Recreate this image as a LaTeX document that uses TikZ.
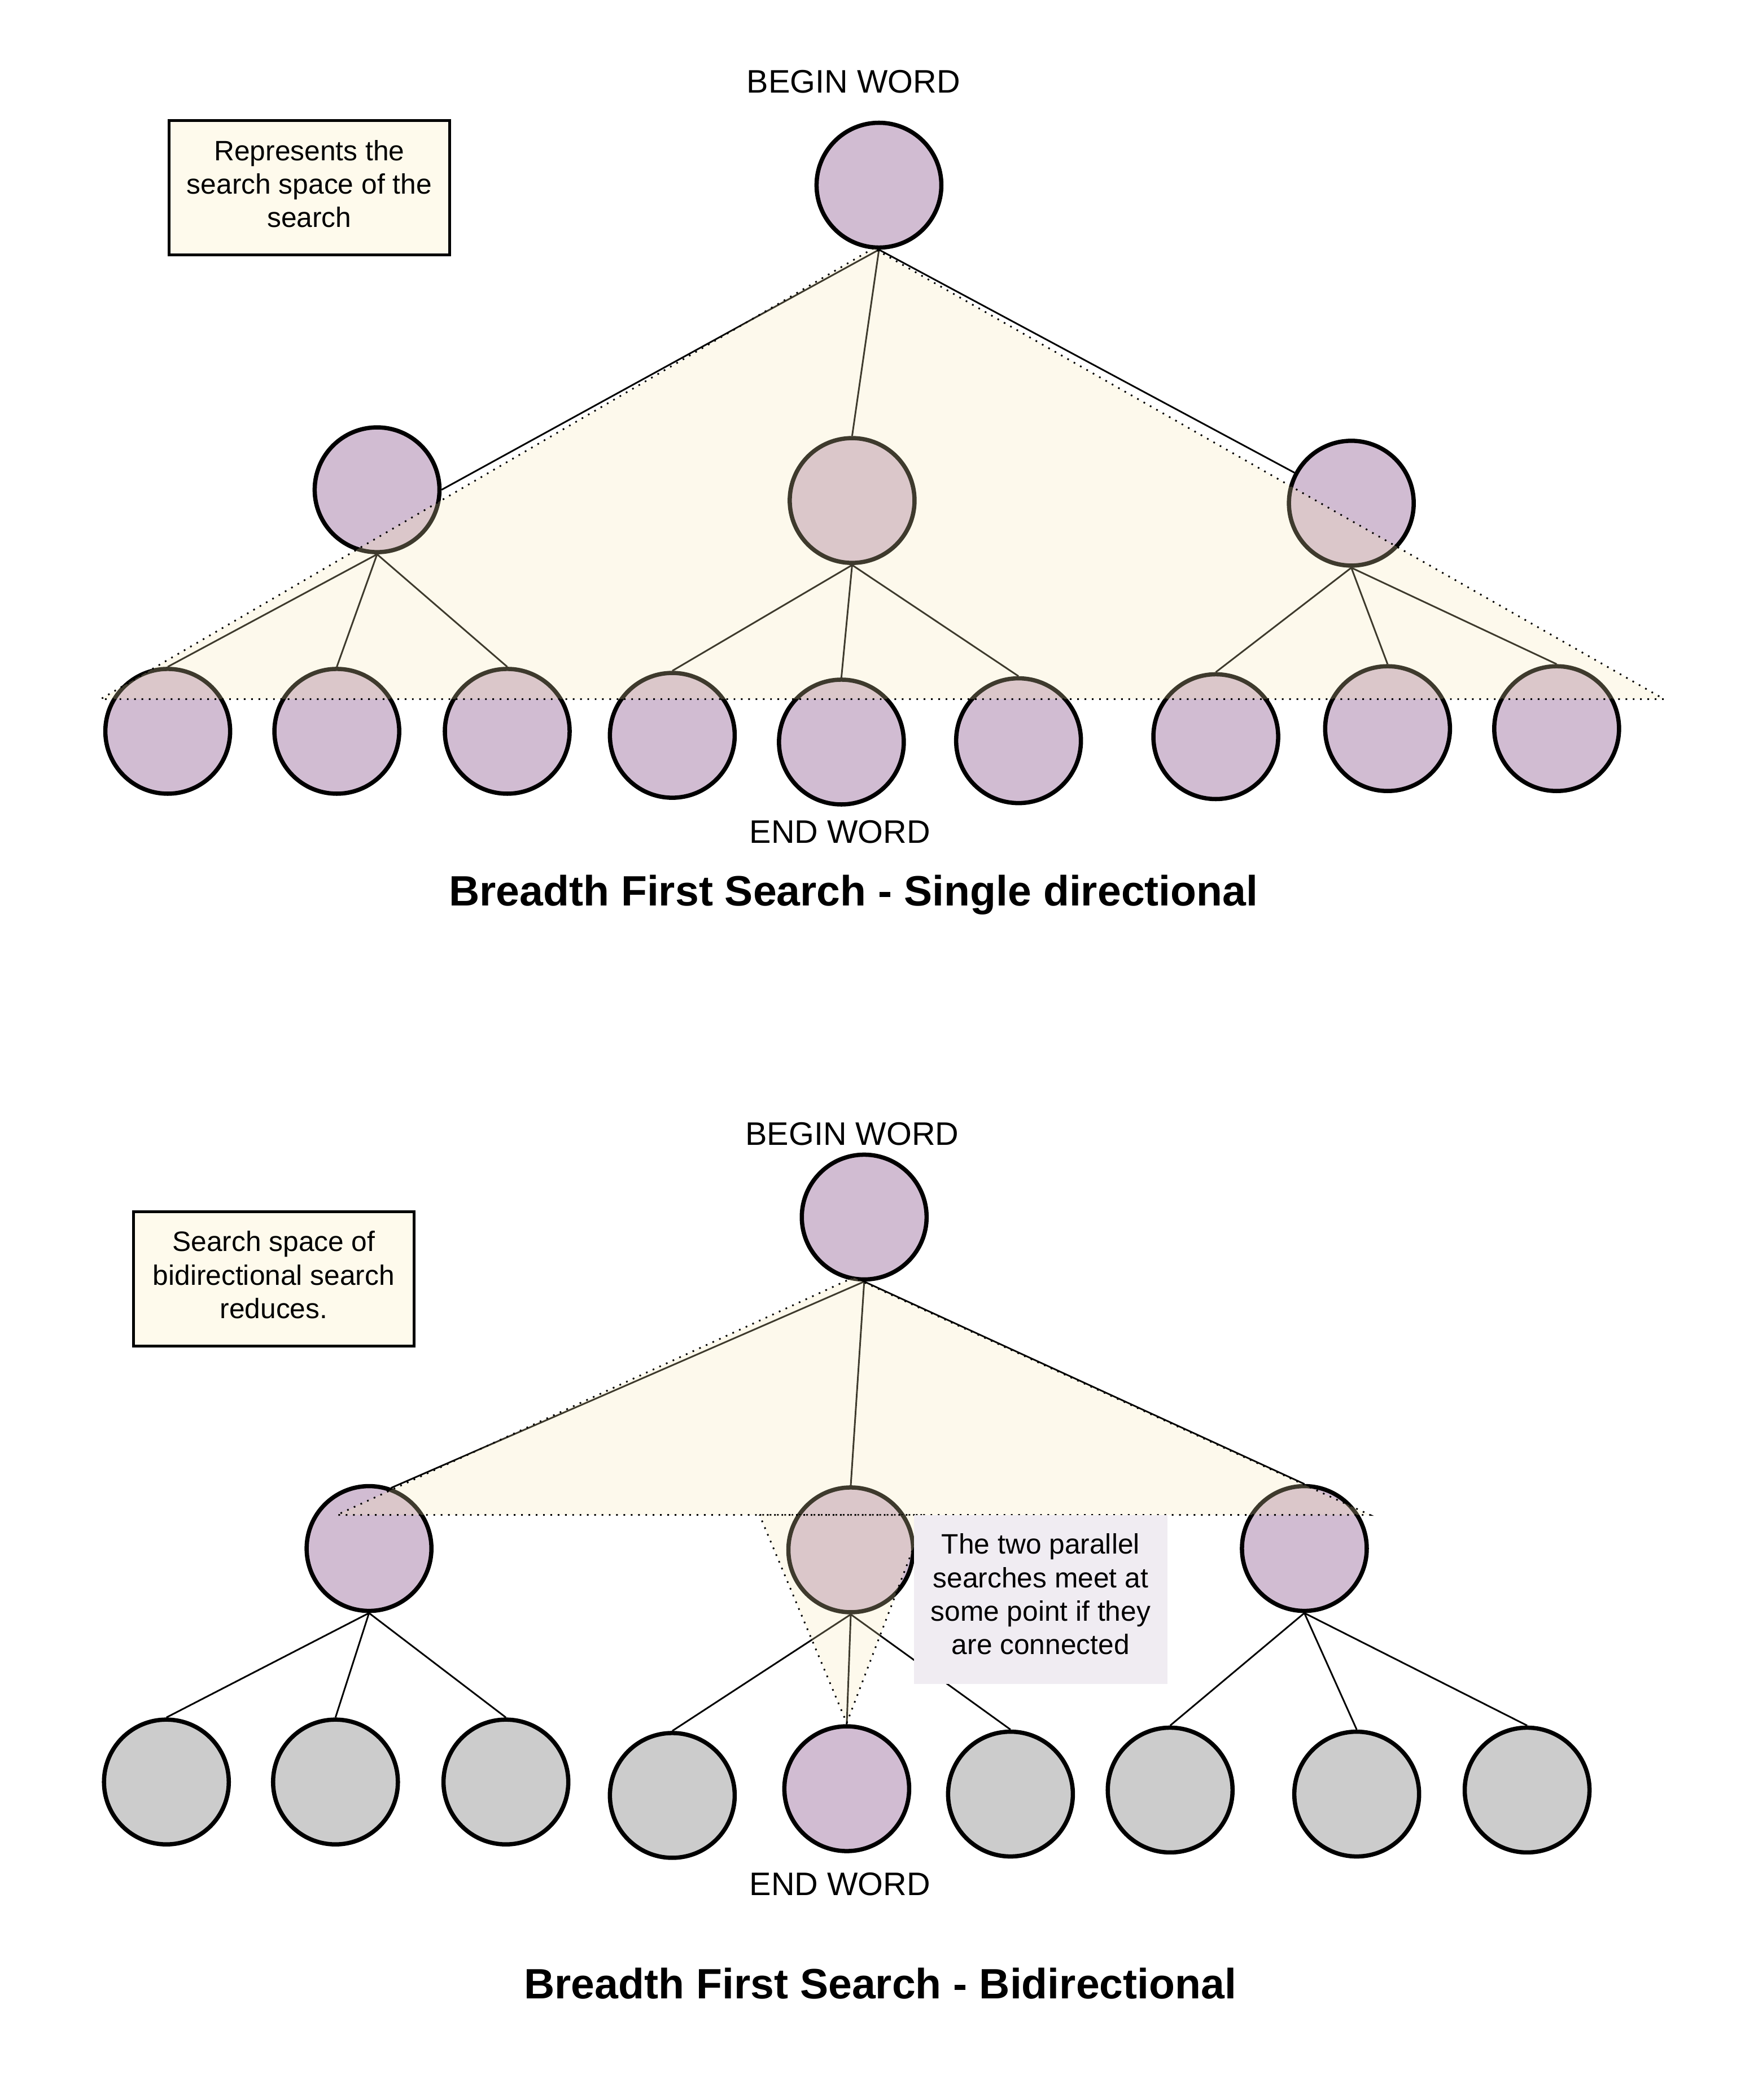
\documentclass[tikz,border=0pt]{standalone}
\usepackage{fontspec}
\setmainfont{Liberation Sans}
\definecolor{mauve}{RGB}{209,188,210}
\definecolor{greynode}{RGB}{204,204,204}
\definecolor{cream}{RGB}{250,235,180}
\definecolor{lilac}{RGB}{240,236,242}
\begin{document}
\begin{tikzpicture}[
		vertex/.style={circle, draw, line width=1.8pt, fill=mauve, minimum size=1.86cm, inner sep=0pt},
		unseen/.style={vertex, fill=greynode},
		edge/.style={line width=0.7pt},
		space/.style={fill=cream, fill opacity=0.25, draw=black, line width=0.7pt, dash pattern=on 0.7pt off 2.4pt},
		word/.style={font=\fontsize{13.8}{16.5}\selectfont},
		title/.style={font=\fontsize{18}{21}\selectfont\bfseries},
		note/.style={draw, line width=1.2pt, fill=cream!25, align=center, minimum width=4.18cm, minimum height=2cm, text depth=3.4pt, font=\fontsize{11.9}{14.2}\selectfont}
	]
	\fill[white] (0,0) rectangle (26,-31.30);
	\useasboundingbox (0,0) rectangle (26,-31.30);

	% single directional
	\node[word] (BW1) at (12.72,-1.22) {BEGIN WORD};
	\node[note] (N1) at (4.61,-2.80) {Represents the\\search space of the\\search};
	\node[vertex] (S0) at (13.10,-2.76) {};
	\node[vertex] (S1) at (5.62,-7.30) {};
	\node[vertex] (S2) at (12.70,-7.46) {};
	\node[vertex] (S3) at (20.14,-7.50) {};
	\node[vertex] (S11) at (2.50,-10.90) {};
	\node[vertex] (S12) at (5.02,-10.90) {};
	\node[vertex] (S13) at (7.56,-10.90) {};
	\node[vertex] (S21) at (10.02,-10.96) {};
	\node[vertex] (S22) at (12.54,-11.06) {};
	\node[vertex] (S23) at (15.18,-11.04) {};
	\node[vertex] (S31) at (18.12,-10.98) {};
	\node[vertex] (S32) at (20.68,-10.86) {};
	\node[vertex] (S33) at (23.20,-10.86) {};
	\node[word] (EW1) at (12.52,-12.40) {END WORD};
	\node[title] (T1) at (12.72,-13.34) {Breadth First Search - Single directional};
	\draw[edge] (S0.south)--(S1.east) (S0.south)--(S2.north) (S0.south)--(S3)
		(S1.south)--(S11.north) (S1.south)--(S12.north) (S1.south)--(S13.north)
		(S2.south)--(S21.north) (S2.south)--(S22.north) (S2.south)--(S23.north)
		(S3.south)--(S31.north) (S3.south)--(S32.north) (S3.south)--(S33.north);
	\draw[space] (13.02,-3.70) -- (1.50,-10.42) -- (24.80,-10.42) -- cycle;

	% bidirectional
	\node[word] (BW2) at (12.70,-16.90) {BEGIN WORD};
	\node[note] (N2) at (4.08,-19.06) {Search space of\\bidirectional search\\reduces.};
	\node[vertex] (B0) at (12.88,-18.14) {};
	\node[vertex] (B1) at (5.50,-23.08) {};
	\node[vertex] (B2) at (12.68,-23.10) {};
	\node[vertex] (B3) at (19.44,-23.08) {};
	\node[unseen] (B11) at (2.48,-26.56) {};
	\node[unseen] (B12) at (5.00,-26.56) {};
	\node[unseen] (B13) at (7.54,-26.56) {};
	\node[unseen] (B21) at (10.02,-26.76) {};
	\node[vertex] (B22) at (12.62,-26.66) {};
	\node[unseen] (B23) at (15.06,-26.74) {};
	\node[unseen] (B31) at (17.44,-26.68) {};
	\node[unseen] (B32) at (20.22,-26.74) {};
	\node[unseen] (B33) at (22.76,-26.68) {};
	\node[word] (EW2) at (12.52,-28.08) {END WORD};
	\node[title] (T2) at (13.12,-29.56) {Breadth First Search - Bidirectional};
	\draw[edge] (B0.south)--(B1.70) (B0.south)--(B2.north) (B0.south)--(B3.north)
		(B1.south)--(B11.north) (B1.south)--(B12.north) (B1.south)--(B13.north)
		(B2.south)--(B21.north) (B2.south)--(B22.north) (B2.south)--(B23.north)
		(B3.south)--(B31.north) (B3.south)--(B32.north) (B3.south)--(B33.north);
	\draw[space] (12.72,-19.04) -- (5.02,-22.58) -- (20.42,-22.58) -- cycle;
	\draw[space] (11.32,-22.58) -- (13.80,-22.58) -- (12.62,-25.68) -- cycle;
	\node[fill=lilac, minimum width=3.78cm, minimum height=2.52cm, align=center, text depth=4.6pt, font=\fontsize{11.9}{14.2}\selectfont] (M) at (15.51,-23.84) {The two parallel\\searches meet at\\some point if they\\are connected};
\end{tikzpicture}
\end{document}
